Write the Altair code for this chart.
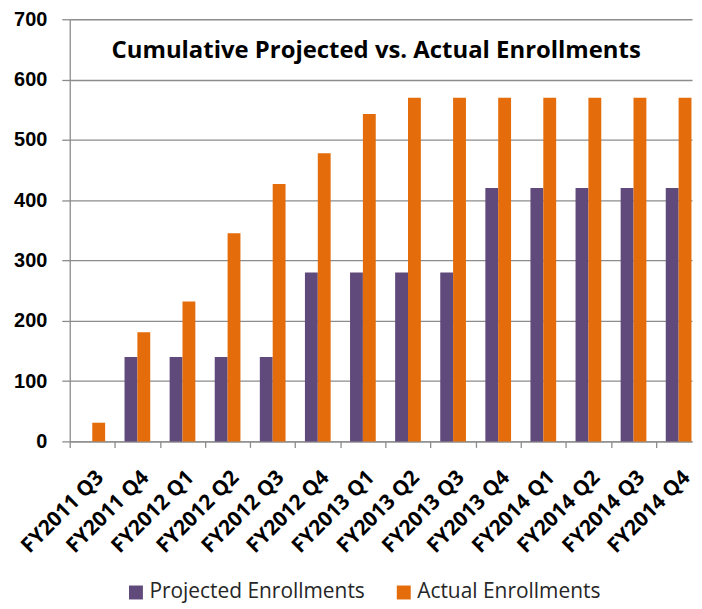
import altair as alt
import pandas as pd

categories = ["FY2011 Q3", "FY2011 Q4", "FY2012 Q1", "FY2012 Q2", "FY2012 Q3", "FY2012 Q4",
              "FY2013 Q1", "FY2013 Q2", "FY2013 Q3", "FY2013 Q4", "FY2014 Q1", "FY2014 Q2",
              "FY2014 Q3", "FY2014 Q4"]
projected = [0, 140, 140, 140, 140, 280, 280, 280, 280, 420, 420, 420, 420, 420]
actual = [31, 181, 232, 345, 427, 478, 543, 570, 570, 570, 570, 570, 570, 570]
series_names = ["Projected Enrollments", "Actual Enrollments"]
series_colors = ["#604A7B", "#E46C0A"]
y_ticks = [0, 100, 200, 300, 400, 500, 600, 700]
title_text = "Cumulative Projected vs. Actual Enrollments"

rows = []
for c, p, a in zip(categories, projected, actual):
    rows.append({"cat": c, "series": series_names[0], "value": p})
    rows.append({"cat": c, "series": series_names[1], "value": a})
df = pd.DataFrame(rows)

GRID = "#8c8c8c"
W = 625
PI, PO, AL = 0.43, 0.1135, 0.947
STEP = W / (len(categories) - PI + 2 * PO)

bars = alt.Chart(df).mark_bar().encode(
    x=alt.X("cat:N", sort=categories, title=None,
            scale=alt.Scale(paddingInner=PI, paddingOuter=PO, align=AL),
            axis=alt.Axis(labelAngle=-45, labelFont="Open Sans", labelFontWeight="bold",
                          labelFontSize=21, labelColor="#000000", labelPadding=19,
                          tickOffset=-STEP / 2, labelOffset=STEP / 2,
                          tickSize=6, tickColor=GRID, tickWidth=1.3,
                          domainColor=GRID, domainWidth=1.3, grid=False)),
    xOffset=alt.XOffset("series:N", sort=series_names, scale=alt.Scale(paddingInner=0, paddingOuter=0)),
    y=alt.Y("value:Q", title=None,
            scale=alt.Scale(domain=[0, 700], nice=False),
            axis=alt.Axis(values=y_ticks, labelFont="Liberation Sans", labelFontWeight="bold",
                          labelFontSize=20, labelColor="#000000", labelPadding=15,
                          tickSize=8, tickColor=GRID, tickWidth=1.3,
                          domainColor=GRID, domainWidth=1.3,
                          grid=True, gridColor=GRID, gridWidth=1.3)),
    color=alt.Color("series:N", sort=series_names,
                    scale=alt.Scale(domain=series_names, range=series_colors),
                    legend=alt.Legend(title=None, orient="none", legendX=56, legendY=565,
                                      direction="horizontal", symbolType="square", symbolSize=196,
                                      symbolStrokeWidth=0, labelOffset=3, columnPadding=28,
                                      labelFont="Open Sans", labelFontSize=21, labelLimit=0,
                                      labelColor="#262626", padding=0)),
)

title_layer = alt.Chart(pd.DataFrame({"t": [title_text]})).mark_text(
    align="left", baseline="alphabetic", font="Open Sans", fontWeight="bold",
    fontSize=24, color="#000000"
).encode(text="t:N", x=alt.value(42), y=alt.value(39))

chart = alt.layer(bars, title_layer).properties(
    width=W, height=424,
    padding={"left": 5, "top": 0, "right": 0, "bottom": 0},
).configure_view(stroke=None)

chart.save("out.html", embed_options={"renderer": "svg", "actions": False})
